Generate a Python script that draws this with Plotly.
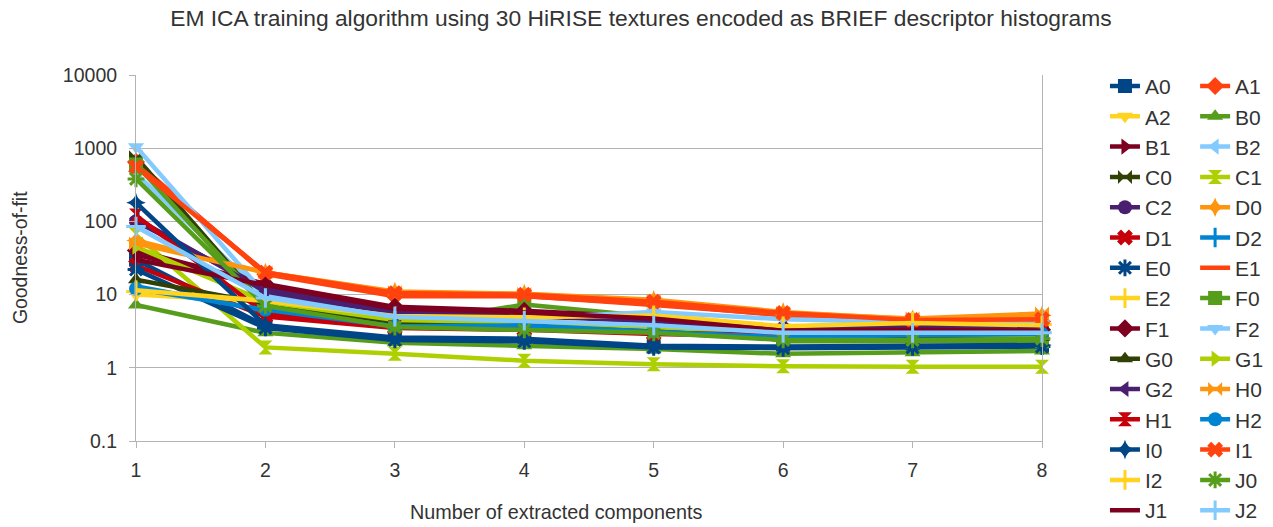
import plotly.graph_objects as go

# Number of extracted components
components = [1, 2, 3, 4, 5, 6, 7, 8]

# Goodness-of-fit per texture (log scale)
A0 = [30, 3.7, 2.5, 2.4, 1.95, 1.9, 1.95, 2.0]
A1 = [650, 19, 9.5, 9.5, 7.5, 5.2, 4.5, 4.3]
A2 = [10, 8, 5.2, 5.0, 5.0, 3.6, 4.2, 3.8]
B0 = [7.2, 3.0, 2.2, 2.0, 1.8, 1.55, 1.6, 1.7]
B1 = [35, 13, 6.5, 5.8, 4.8, 3.3, 3.4, 3.3]
B2 = [450, 9.5, 5.0, 4.3, 3.7, 3.0, 3.0, 3.0]
C0 = [750, 7, 4.0, 3.8, 3.5, 2.6, 2.6, 2.5]
C1 = [65, 1.9, 1.55, 1.25, 1.12, 1.05, 1.03, 1.03]
C2 = [100, 12, 5.8, 5.3, 4.5, 3.5, 3.6, 3.5]
D0 = [55, 20, 11, 10.3, 8.5, 5.8, 4.6, 5.2]
D1 = [25, 5, 3.5, 3.3, 2.9, 2.7, 2.8, 2.9]
D2 = [13, 6, 3.6, 3.7, 3.0, 2.5, 2.7, 2.8]
E0 = [22, 3.5, 2.4, 2.3, 1.9, 1.85, 1.9, 1.95]
E1 = [600, 20, 9.8, 9.6, 7.2, 5.3, 4.4, 4.4]
E2 = [11, 8, 5.3, 5.1, 5.4, 3.5, 4.3, 3.9]
F0 = [600, 7, 3.8, 7.3, 5.0, 2.3, 2.3, 2.3]
F1 = [40, 14, 6.8, 6.0, 4.9, 3.4, 3.5, 3.3]
F2 = [1050, 10, 5.2, 4.8, 5.8, 4.6, 4.2, 4.0]
G0 = [16, 7.5, 4.2, 3.9, 3.4, 2.7, 2.7, 2.6]
G1 = [45, 8, 4.5, 4.2, 3.6, 2.9, 2.9, 2.8]
G2 = [110, 11, 5.6, 5.1, 4.3, 3.4, 3.5, 3.4]
H0 = [50, 20, 10.8, 10.2, 8.2, 5.6, 4.7, 5.5]
H1 = [120, 5.5, 3.6, 3.4, 3.0, 2.8, 2.9, 3.0]
H2 = [12, 6.2, 3.7, 3.8, 3.1, 2.6, 2.8, 2.9]
I0 = [180, 3.8, 2.6, 2.5, 2.0, 1.95, 2.0, 2.05]
I1 = [550, 20, 10.5, 10, 8, 5.6, 4.5, 4.6]
I2 = [11.5, 8.2, 5.1, 4.9, 5.2, 3.7, 4.1, 3.8]
J0 = [380, 7, 3.6, 3.3, 3.0, 2.4, 2.4, 2.5]
J1 = [30, 13.5, 6.4, 5.7, 4.7, 3.2, 3.3, 3.2]
J2 = [85, 9, 5.0, 4.4, 3.8, 3.0, 3.0, 3.0]

names = ["A0", "A1", "A2", "B0", "B1", "B2", "C0", "C1", "C2", "D0",
         "D1", "D2", "E0", "E1", "E2", "F0", "F1", "F2", "G0", "G1",
         "G2", "H0", "H1", "H2", "I0", "I1", "I2", "J0", "J1", "J2"]
series = [A0, A1, A2, B0, B1, B2, C0, C1, C2, D0,
          D1, D2, E0, E1, E2, F0, F1, F2, G0, G1,
          G2, H0, H1, H2, I0, I1, I2, J0, J1, J2]

palette = ["#004586", "#ff420e", "#ffd320", "#579d1c", "#7e0021", "#83caff",
           "#314004", "#aecf00", "#4b1f6f", "#ff950e", "#c5000b", "#0084d1"]

symbols = ["square", "diamond", "triangle-down", "triangle-up", "triangle-right",
           "triangle-left", "bowtie", "hourglass", "circle", "star-diamond",
           "x", "line-ns-open", "asterisk-open", None, "cross-thin-open"]

fig = go.Figure()
for i, (name, vals) in enumerate(zip(names, series)):
    color = palette[i % len(palette)]
    sym = symbols[i % len(symbols)]
    is_open = sym is not None and sym.endswith("-open")
    trace = dict(
        x=components, y=vals, name=name,
        line=dict(color=color, width=4.5),
        cliponaxis=False,
        legend="legend" if i % 2 == 0 else "legend2",
    )
    if sym is None:
        trace["mode"] = "lines"
    else:
        trace["mode"] = "lines+markers"
        trace["marker"] = dict(
            symbol=sym, size=14, color=color,
            line=dict(color=color, width=3 if is_open else 0),
        )
    fig.add_trace(go.Scatter(**trace))

grid = "#b3b3b3"
text_color = "#333333"
font = "Liberation Sans, Arial, sans-serif"

legend_common = dict(
    orientation="v", yanchor="top", xanchor="left", y=1.025,
    font=dict(size=21, color=text_color, family=font),
    bgcolor="rgba(0,0,0,0)", tracegroupgap=0, maxheight=600,
    itemclick=False, itemdoubleclick=False,
)

fig.update_layout(
    width=1273, height=527,
    margin=dict(l=136, r=231, t=75, b=86, autoexpand=False),
    paper_bgcolor="white", plot_bgcolor="white",
    font=dict(family=font, color=text_color),
    title=dict(
        text="EM ICA training algorithm using 30 HiRISE textures encoded as BRIEF descriptor histograms",
        x=0.5035, xanchor="center", xref="container",
        y=0.965, yanchor="middle", yref="container",
        font=dict(size=22.8, color=text_color, family=font),
    ),
    xaxis=dict(
        range=[1, 8], tickvals=components, ticktext=[str(c) for c in components],
        showgrid=False, zeroline=False, showline=True, linecolor=grid, linewidth=1,
        ticks="outside", ticklen=6, tickcolor=grid,
        tickfont=dict(size=19.5, color=text_color), ticklabelstandoff=6,
    ),
    yaxis=dict(
        type="log", range=[-1, 4],
        tickvals=[0.1, 1, 10, 100, 1000, 10000],
        ticktext=["0.1", "1", "10", "100", "1000", "10000"],
        showgrid=True, gridcolor=grid, gridwidth=1, zeroline=False,
        showline=True, linecolor=grid, linewidth=1, mirror=True,
        ticks="outside", ticklen=6, tickcolor=grid,
        tickfont=dict(size=19.5, color=text_color), ticklabelstandoff=8,
    ),
    legend=dict(x=1.0695, **legend_common),
    legend2=dict(x=1.169, **legend_common),
    annotations=[
        dict(text="Number of extracted components", xref="paper", yref="paper",
             x=0.4636, y=-0.194, xanchor="center", yanchor="middle", showarrow=False,
             font=dict(size=19.8, color=text_color, family=font)),
        dict(text="Goodness-of-fit", xref="paper", yref="paper",
             x=-0.128, y=0.5, xanchor="center", yanchor="middle", showarrow=False,
             textangle=-90, font=dict(size=19.4, color=text_color, family=font)),
    ],
)

fig.write_html("out.html")
